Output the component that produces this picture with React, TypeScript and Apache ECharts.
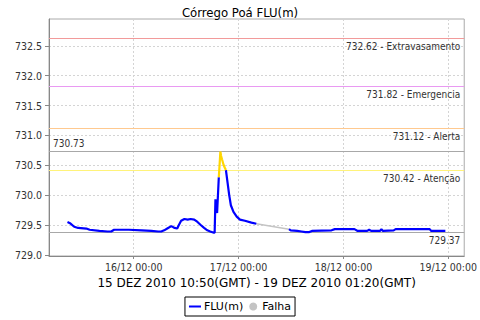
import { useEffect, useRef } from "react";
import * as echarts from "echarts";

const titleText = "Córrego Poá FLU(m)";
const xAxisTitle = "15 DEZ 2010 10:50(GMT) - 19 DEZ 2010 01:20(GMT)";
const yTickValues = [729.0, 729.5, 730.0, 730.5, 731.0, 731.5, 732.0, 732.5];
// hours since 15/12 00:00
const xTickHours = [24, 48, 72, 96];

// first stretch (blue), up to the start of the peak
const fluHoursA = [8.83, 9.4, 10.37, 11.27, 13.16, 13.9, 16.14, 18.0, 18.84, 19.5, 22.88, 25.8, 28.04, 29.6, 30.3, 30.96, 31.86, 32.6, 33.36, 33.95, 34.33, 34.84, 35.6, 36.35, 37.02, 37.85, 38.59, 39.33, 40.1, 40.84, 41.51, 42.34, 42.52, 42.7, 42.9, 43.08, 43.47];
const fluValuesA = [729.55, 729.53, 729.47, 729.45, 729.44, 729.42, 729.4, 729.39, 729.39, 729.42, 729.42, 729.41, 729.4, 729.39, 729.39, 729.41, 729.45, 729.48, 729.45, 729.44, 729.5, 729.57, 729.6, 729.59, 729.6, 729.59, 729.55, 729.5, 729.45, 729.41, 729.39, 729.37, 729.37, 729.93, 729.8, 729.7, 730.3];
// peak above the attention level (yellow)
const peakHours = [43.47, 43.6, 43.83, 43.98, 44.2, 44.59, 44.9, 45.1];
const peakValues = [730.3, 730.45, 730.73, 730.66, 730.6, 730.5, 730.45, 730.42];
// decay after the peak (blue)
const fluHoursB = [45.1, 45.49, 45.85, 46.23, 46.83, 47.57, 48.32, 49.44, 50.94, 52.06];
const fluValuesB = [730.42, 730.2, 730.0, 729.83, 729.72, 729.64, 729.59, 729.57, 729.54, 729.52];
// failure gap (gray)
const falhaHours = [52.06, 59.54];
const falhaValues = [729.52, 729.43];
// last stretch (blue)
const fluHoursC = [59.54, 59.92, 61.43, 62.39, 63.29, 64.19, 64.79, 69.28, 70.03, 74.52, 75.26, 77.44, 77.88, 78.33, 80.35, 80.69, 81.03, 83.5, 83.95, 91.74, 92.1, 95.33];
const fluValuesC = [729.43, 729.41, 729.4, 729.39, 729.38, 729.38, 729.4, 729.41, 729.43, 729.43, 729.4, 729.4, 729.42, 729.4, 729.4, 729.43, 729.4, 729.41, 729.43, 729.43, 729.4, 729.4];

const levelValues = [732.62, 731.82, 731.12, 730.42];
const levelNames = ["Extravasamento", "Emergencia", "Alerta", "Atenção"];
const levelColors = ["#f29a9a", "#e99af2", "#ffc98f", "#fff37a"];
const maxValue = 730.73;
const minValue = 729.37;

const small = '"DejaVu Sans Condensed", "DejaVu Sans", sans-serif';
const regular = '"DejaVu Sans", sans-serif';

function pairs(h: number[], v: number[]) {
  return h.map((x, i) => [x, v[i]]);
}

function hourLabel(h: number) {
  const day = 15 + Math.floor(h / 24);
  const hh = Math.round(h % 24);
  return `${day}/12 ${String(hh).padStart(2, "0")}:00`;
}

export default function App() {
  const ref = useRef<HTMLDivElement>(null);
  useEffect(() => {
    const chart = echarts.init(ref.current!, null, { renderer: "svg" });
    const blueData = [
      ...pairs(fluHoursA, fluValuesA),
      [43.8, "-"],
      ...pairs(fluHoursB, fluValuesB),
      [56, "-"],
      ...pairs(fluHoursC, fluValuesC),
    ];
    const refLine = { color: "#a8a8a8", width: 1, type: "solid" };
    const markData: any[] = levelValues.map((v, i) => ({
      yAxis: v,
      lineStyle: { color: levelColors[i], width: 1, type: "solid" },
      label: {
        show: true,
        position: "insideEndBottom",
        formatter: `${v.toFixed(2)} - ${levelNames[i]}`,
      },
    }));
    markData.push({
      yAxis: maxValue,
      lineStyle: { ...refLine },
      label: { show: true, position: "insideStartTop", formatter: maxValue.toFixed(2) },
    });
    markData.push({
      yAxis: minValue,
      lineStyle: { ...refLine },
      label: { show: true, position: "insideEndBottom", formatter: minValue.toFixed(2) },
    });
    chart.setOption({
      animation: false,
      backgroundColor: "#ffffff",
      title: {
        text: titleText,
        left: "center",
        top: 1,
        textStyle: { fontFamily: small, fontSize: 13, fontWeight: "normal", color: "#000" },
      },
      grid: {
        left: 49,
        right: 8,
        top: 19,
        bottom: 64,
        show: true,
        borderColor: "#aaaaaa",
        borderWidth: 1,
        backgroundColor: "transparent",
      },
      legend: {
        bottom: 4,
        left: "center",
        borderColor: "#000",
        borderWidth: 1,
        padding: [4, 4],
        itemGap: 6,
        itemWidth: 12,
        itemHeight: 8,
        symbolKeepAspect: true,
        textStyle: { fontFamily: regular, fontSize: 11, color: "#000", padding: [0, 0, 0, -2] },
        data: [
          {
            name: "FLU(m)",
            icon: "path://M0,0 L12,0 L12,2 L0,2 Z",
            itemStyle: { color: "#0000ff", borderWidth: 0 },
          },
          { name: "Falha", icon: "circle", itemStyle: { color: "#c4c4c4", borderWidth: 0 } },
        ],
      },
      xAxis: {
        type: "value",
        min: 4.6,
        max: 99.65,
        name: xAxisTitle,
        nameLocation: "middle",
        nameGap: 19,
        nameTextStyle: { fontFamily: regular, fontSize: 12, color: "#000" },
        axisLine: { show: true, onZero: false, lineStyle: { color: "#888888" } },
        axisTick: { show: true, length: 3, lineStyle: { color: "#888888" }, customValues: xTickHours },
        axisLabel: {
          customValues: xTickHours,
          formatter: (v: number) => hourLabel(v),
          fontFamily: small,
          fontSize: 10.5,
          color: "#333",
          margin: 5,
        },
        splitLine: { show: true, lineStyle: { color: "#d4d4d4", type: [2, 2], width: 1 } },
      },
      yAxis: {
        type: "value",
        min: 728.98,
        max: 732.95,
        axisLine: { show: true, lineStyle: { color: "#888888" } },
        axisTick: { show: true, length: 4, lineStyle: { color: "#888888" }, customValues: yTickValues },
        axisLabel: {
          customValues: yTickValues,
          formatter: (v: number) => v.toFixed(1),
          fontFamily: small,
          fontSize: 10.5,
          color: "#333",
          margin: 7,
        },
        splitLine: { show: true, lineStyle: { color: "#d4d4d4", type: [2, 2], width: 1 } },
      },
      series: [
        {
          name: "Falha",
          type: "line",
          data: pairs(falhaHours, falhaValues),
          symbol: "none",
          itemStyle: { color: "#c4c4c4" },
          lineStyle: { color: "#c4c4c4", width: 1.5 },
          z: 2,
        },
        {
          name: "FLU(m)",
          type: "line",
          data: blueData,
          symbol: "none",
          connectNulls: false,
          itemStyle: { color: "#0000ff" },
          lineStyle: { color: "#0000ff", width: 2.2 },
          z: 3,
          markLine: {
            silent: true,
            symbol: ["none", "none"],
            z: 1,
            label: {
              fontFamily: small,
              fontSize: 10,
              color: "#333",
              distance: [4, 3],
            },
            data: markData,
          },
        },
        {
          name: "FLU(m) pico",
          type: "line",
          data: pairs(peakHours, peakValues),
          symbol: "none",
          itemStyle: { color: "#ffd700" },
          lineStyle: { color: "#ffd700", width: 2.2 },
          z: 4,
        },
      ],
    });
    return () => chart.dispose();
  }, []);
  return (
    <div
      ref={ref}
      style={{ width: 480, height: 320, position: "absolute", left: 0, top: 0, background: "#fff" }}
    />
  );
}
